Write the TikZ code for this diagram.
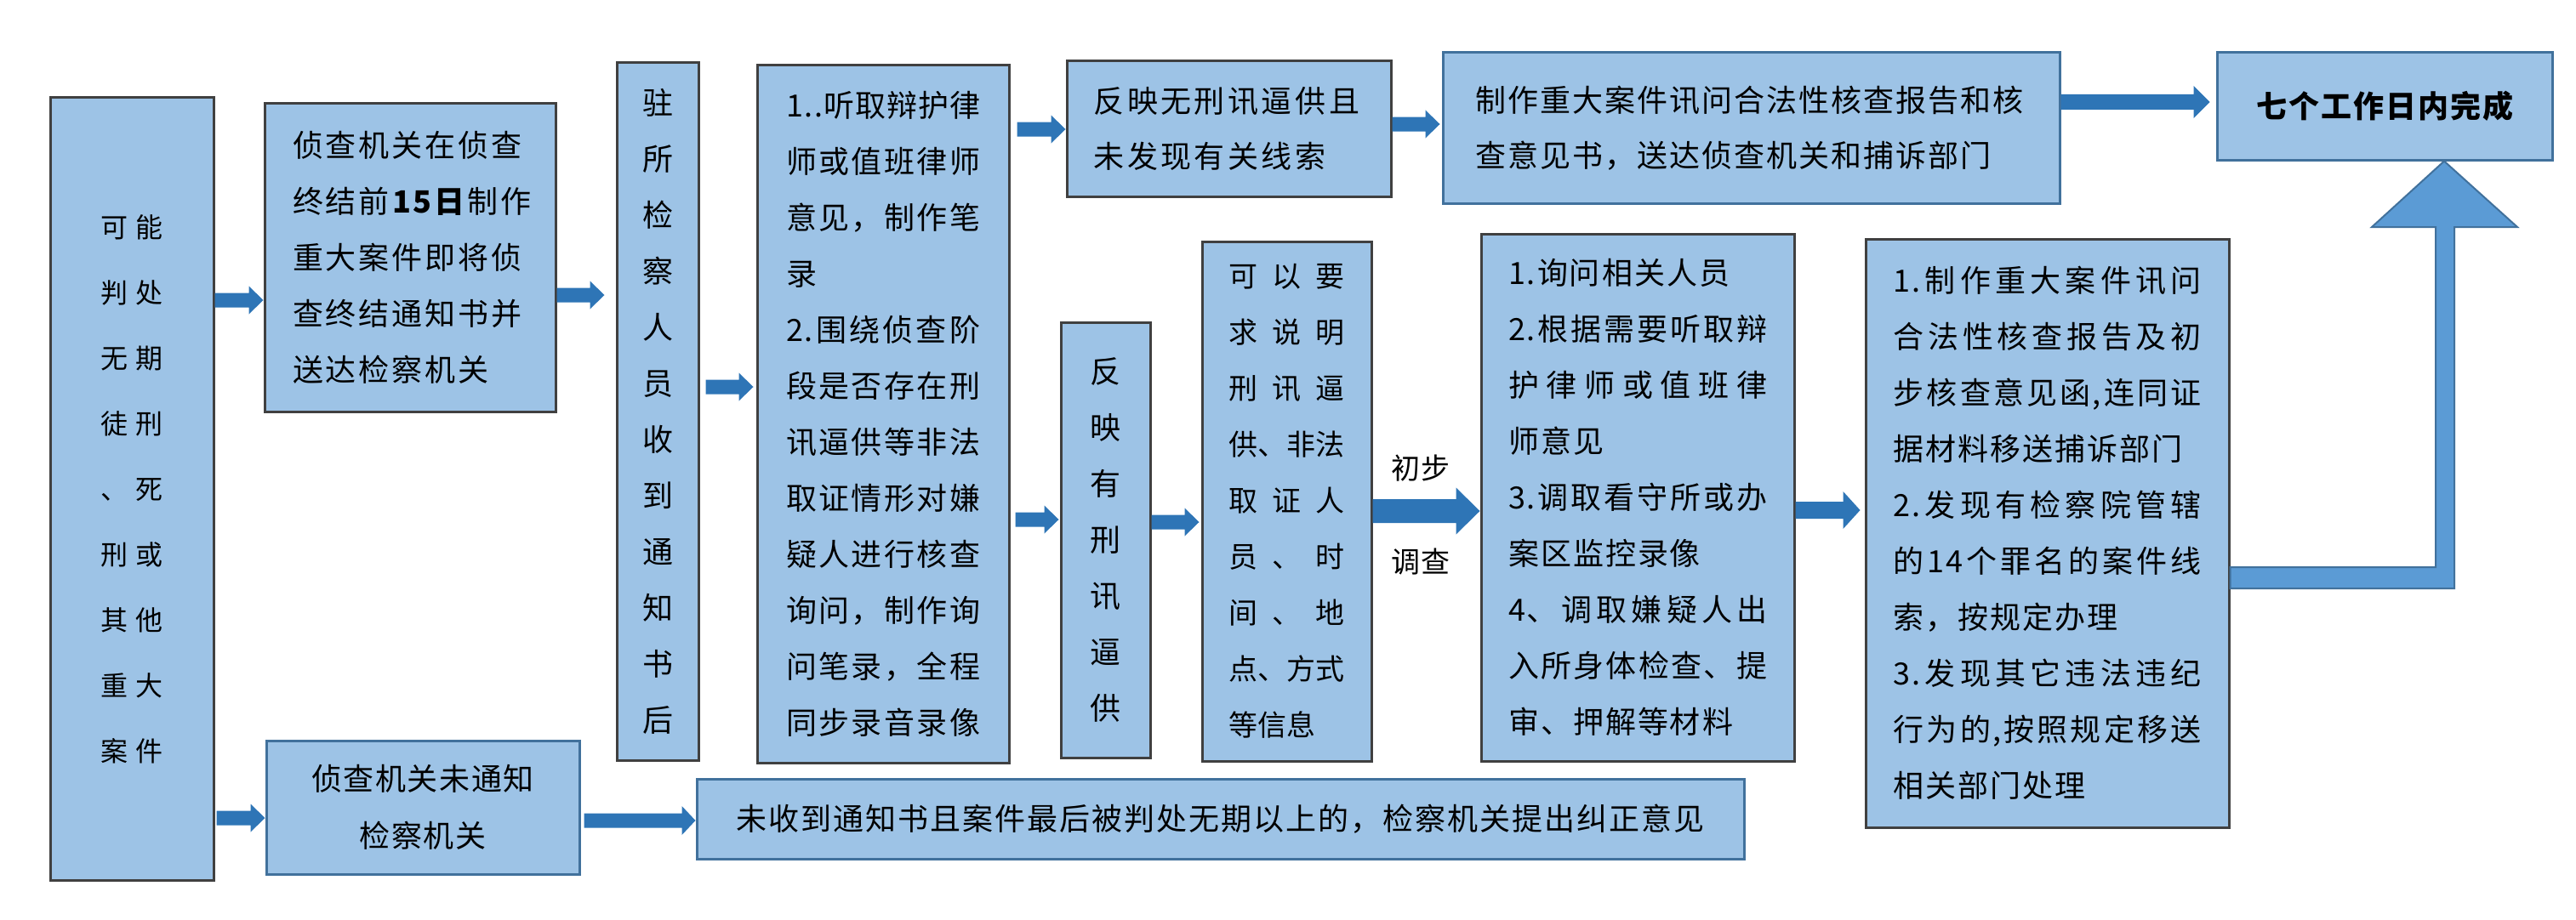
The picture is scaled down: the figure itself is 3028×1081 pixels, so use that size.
\documentclass[tikz,border=0pt]{standalone}
\usepackage{fontspec}
\setmainfont{Noto Sans CJK SC}
\usetikzlibrary{calc}
\definecolor{boxfill}{HTML}{9DC3E6}
\definecolor{boxline}{HTML}{404040}
\definecolor{blueline}{HTML}{41719C}
\definecolor{arrowcol}{HTML}{2E75B6}
\definecolor{bigfill}{HTML}{5B9BD5}
\newcommand\txtfont[3]{\fontsize{#1}{#2}\selectfont\addfontfeature{LetterSpace=#3}}
\makeatletter
\def\jl#1{\leavevmode\hbox to\linewidth{\jl@a#1\jl@end}}
\def\jl@a#1#2\jl@end{#1\if\relax\detokenize{#2}\relax\else\hfil\jl@a#2\jl@end\fi}
\makeatother
\tikzset{
  box/.style={draw=boxline, line width=1.5pt, fill=boxfill, inner sep=0pt, text=black},
  bbox/.style={box, draw=blueline},
  lab/.style={inner sep=0pt, text=black, font=\txtfont{17}{20}{4}},
  barrow/.style args={#1/#2/#3/#4/#5}{to path={
    ([xshift=#4,yshift=-#1]\tikztostart) --
    ([xshift=-#5-#3,yshift=-#1]\tikztotarget) --
    ([xshift=-#5-#3,yshift=-#2]\tikztotarget) --
    ([xshift=-#5]\tikztotarget) --
    ([xshift=-#5-#3,yshift=#2]\tikztotarget) --
    ([xshift=-#5-#3,yshift=#1]\tikztotarget) --
    ([xshift=#4,yshift=#1]\tikztostart) -- cycle}},
  arr/.style={fill=arrowcol}
}
\begin{document}
\begin{tikzpicture}[x=0.5pt,y=-0.5pt]
\fill[white] (0,0) rectangle (3028,1081);
\useasboundingbox (0,0) rectangle (3028,1081);

% boxes
\node[box, minimum width=96pt, minimum height=460pt, text width=37pt, align=left,
  font=\txtfont{16}{38.5}{0}] (A) at (155,575)
  {\jl{可能}\\\jl{判处}\\\jl{无期}\\\jl{徒刑}\\\jl{、死}\\\jl{刑或}\\\jl{其他}\\\jl{重大}\\\jl{案件}};

\node[box, minimum width=171pt, minimum height=181pt, text width=138pt, align=left,
  font=\txtfont{18}{33}{8.33}] (B) at (482,303)
  {侦查机关在侦查\\终结前\textbf{15日}制作\\重大案件即将侦\\查终结通知书并\\送达检察机关};

\node[box, minimum width=48pt, minimum height=410pt, align=center,
  font=\txtfont{18}{33}{0}] (C) at (773,484)
  {驻\\所\\检\\察\\人\\员\\收\\到\\通\\知\\书\\后};

\node[box, minimum width=148pt, minimum height=410pt, text width=114pt, align=left,
  font=\txtfont{18}{33}{5.56}] (D) at (1038,487)
  {\jl{{1..}听取辩护律}\\\jl{师或值班律师}\\\jl{意见，制作笔}\\录\\\jl{{2.}围绕侦查阶}\\\jl{段是否存在刑}\\\jl{讯逼供等非法}\\\jl{取证情形对嫌}\\\jl{疑人进行核查}\\\jl{询问，制作询}\\\jl{问笔录，全程}\\\jl{同步录音录像}};

\node[box, minimum width=190.5pt, minimum height=79.5pt, text width=159pt, align=left,
  font=\txtfont{18}{32.5}{9.72}] (E) at (1444.5,151.5)
  {反映无刑讯逼供且\\未发现有关线索};

\node[bbox, minimum width=362.5pt, minimum height=88.5pt, text width=324pt, align=left,
  font=\txtfont{18}{32.5}{5.56}] (F) at (2058.5,150.5)
  {制作重大案件讯问合法性核查报告和核\\查意见书，送达侦查机关和捕诉部门};

\node[bbox, minimum width=197pt, minimum height=63pt, align=center,
  font=\bfseries\txtfont{18}{33}{5.56}] (G) at (2803,125)
  {七个工作日内完成};

\node[box, minimum width=52.5pt, minimum height=256pt, align=center,
  font=\txtfont{18}{33}{0}] (H) at (1299.5,635)
  {反\\映\\有\\刑\\讯\\逼\\供};

\node[box, minimum width=99.5pt, minimum height=305.5pt, text width=68pt, align=left,
  font=\txtfont{17}{33}{0}] (I) at (1512.5,589.5)
  {\jl{可以要}\\\jl{求说明}\\\jl{刑讯逼}\\\jl{供、非法}\\\jl{取证人}\\\jl{员、时}\\\jl{间、地}\\\jl{点、方式}\\等信息};

\node[box, minimum width=184pt, minimum height=310pt, text width=152pt, align=left,
  font=\txtfont{18}{33}{5.56}] (J) at (1925,585)
  {1.询问相关人员\\\jl{{2.}根据需要听取辩}\\\jl{护律师或值班律}\\师意见\\\jl{{3.}调取看守所或办}\\案区监控录像\\\jl{{4、}调取嫌疑人出}\\\jl{入所身体检查、提}\\审、押解等材料};

\node[box, minimum width=213.5pt, minimum height=346pt, text width=181pt, align=left,
  font=\txtfont{18}{33}{5.56}] (K) at (2406.5,627)
  {\jl{{1.}制作重大案件讯问}\\\jl{合法性核查报告及初}\\\jl{步核查意见{函,}连同证}\\据材料移送捕诉部门\\\jl{{2.}发现有检察院管辖}\\\jl{的{14}个罪名的案件线}\\索，按规定办理\\\jl{{3.}发现其它违法违纪}\\\jl{行为{的,}按照规定移送}\\相关部门处理};

\node[bbox, minimum width=184pt, minimum height=78.5pt, align=center,
  font=\txtfont{18}{33.5}{4.4}] (L) at (497,949.5)
  {侦查机关未通知\\检察机关};

\node[bbox, minimum width=615.5pt, minimum height=47pt, align=center,
  font=\txtfont{18}{33}{5.56}] (M) at (1434.5,963)
  {未收到通知书且案件最后被判处无期以上的，检察机关提出纠正意见};

% labels
\node[lab] (l1) at (1670,551) {初步};
\node[lab] (l2) at (1670,661) {调查};

% arrows
\fill[arr] (A.east |- 0,353) to[barrow=4.25pt/8.25pt/8.5pt/0pt/0pt] (B.west |- 0,353);
\fill[arr] (A.east |- 0,962) to[barrow=4.25pt/8.25pt/8.5pt/1pt/0pt] (L.west |- 0,962);
\fill[arr] (B.east |- 0,347) to[barrow=4.25pt/8.25pt/8.5pt/0pt/6.5pt] (C.west |- 0,347);
\fill[arr] (C.east |- 0,455) to[barrow=4.25pt/8.25pt/8.5pt/3.5pt/1.5pt] (D.west |- 0,455);
\fill[arr] (D.east |- 0,152) to[barrow=4.25pt/8.25pt/8.5pt/4pt/0pt] (E.west |- 0,152);
\fill[arr] (E.east |- 0,146) to[barrow=4.25pt/8.25pt/8.5pt/0pt/1pt] (F.west |- 0,146);
\fill[arr] (F.east |- 0,120) to[barrow=4.5pt/9.5pt/9.5pt/0pt/3.5pt] (G.west |- 0,120);
\fill[arr] (D.east |- 0,611) to[barrow=4.25pt/8.25pt/8.5pt/3pt/0.5pt] (H.west |- 0,611);
\fill[arr] (H.east |- 0,614) to[barrow=4.25pt/8.25pt/8.5pt/0pt/1pt] (I.west |- 0,614);
\fill[arr] (I.east |- 0,601) to[barrow=7pt/13.75pt/14pt/0pt/0pt] (J.west |- 0,601);
\fill[arr] (J.east |- 0,600) to[barrow=5pt/11pt/10pt/0pt/2.5pt] (K.west |- 0,600);
\fill[arr] (L.east |- 0,965) to[barrow=4.25pt/8.5pt/8pt/2pt/0pt] (M.west |- 0,965);

% big elbow arrow K -> G
\filldraw[fill=bigfill, draw=blueline, line width=1pt, line join=miter]
  (K.east |- 0,667) -- (2863,667) -- (2863,267) -- (2788,267) -- (2873,0 |- G.south)
  -- (2959,267) -- (2885,267) -- (2885,692) -- (K.east |- 0,692) -- cycle;
\end{tikzpicture}
\end{document}
